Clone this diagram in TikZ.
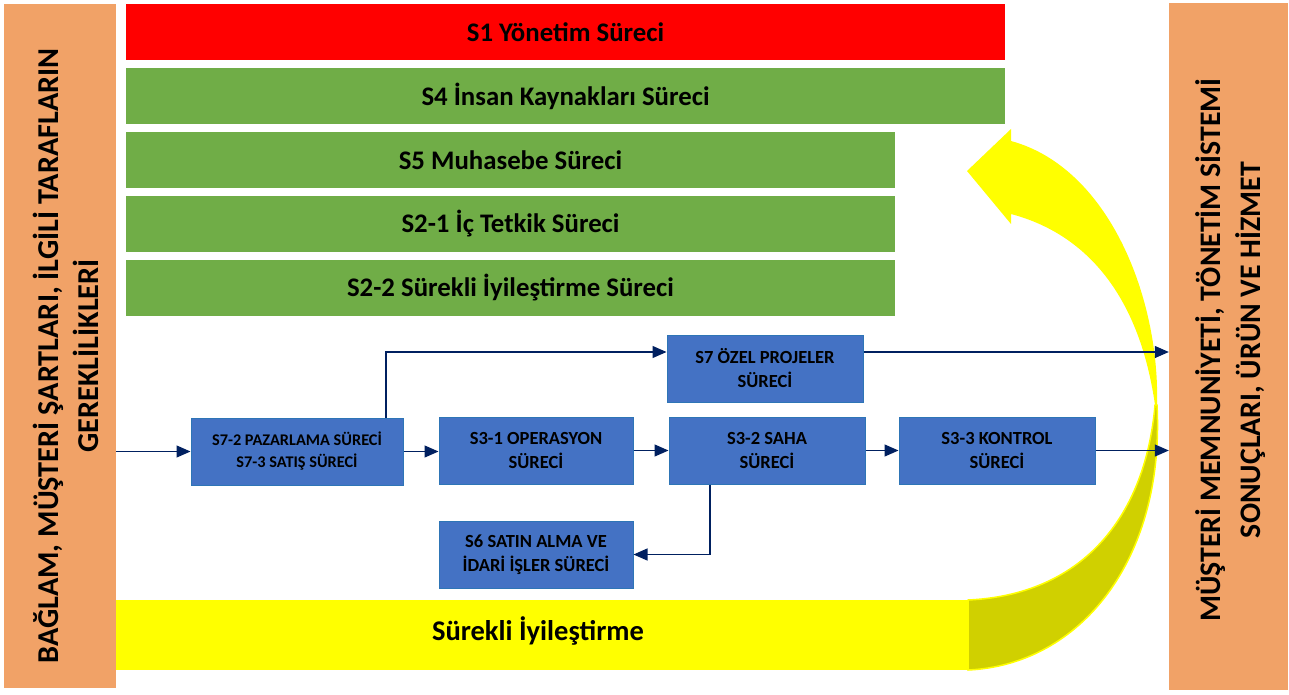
\documentclass[tikz,border=0pt]{standalone}
\usepackage{fontspec}
\setmainfont{Carlito}
\usetikzlibrary{arrows.meta}
\definecolor{orng}{RGB}{241,162,103}
\definecolor{grn}{RGB}{112,173,71}
\definecolor{rd}{RGB}{255,0,0}
\definecolor{blu}{RGB}{68,114,196}
\definecolor{bluedge}{RGB}{46,117,182}
\definecolor{navy}{RGB}{0,32,96}
\definecolor{yel}{RGB}{255,255,0}
\definecolor{olv}{RGB}{208,208,0}
\begin{document}
\begin{tikzpicture}[x=1pt,y=-1pt,
  side/.style={fill=orng, draw=none, inner sep=0},
  sidetext/.style={rotate=90, inner sep=0, align=center},
  bar/.style={draw=none, minimum height=56pt, inner sep=0,
    font=\bfseries\fontsize{26.8}{30}\selectfont},
  proc/.style={fill=blu, draw=bluedge, line width=1pt, minimum height=67pt,
    inner sep=0, align=center, font=\bfseries\fontsize{18.5}{24}\selectfont},
  link/.style={draw=navy, line width=1.2pt, -{Triangle[length=14pt,width=12pt]}},
  backside/.style={fill=olv, draw=yel, line width=1.5pt}
]
\useasboundingbox[fill=white] (0,0) rectangle (1289,695);

% side bars
\node[side, minimum width=112pt, minimum height=684pt] (lb) at (60,346) {};
\node[sidetext, font=\bfseries\fontsize{30.3}{40}\selectfont] (lbt) at (66,356)
  {BAĞLAM, MÜŞTERİ ŞARTLARI, İLGİLİ TARAFLARIN\\GEREKLİLİKLERİ};
\node[side, minimum width=119pt, minimum height=687pt] (rb) at (1228.5,346.5) {};
\node[sidetext, font=\bfseries\fontsize{29.8}{40}\selectfont] (rbt) at (1231,350)
  {MÜŞTERİ MEMNUNİYETİ, TÖNETİM SİSTEMİ\\SONUÇLARI, ÜRÜN VE HİZMET};

% process bars
\node[bar, fill=rd,  minimum width=879pt] (s1)  at (565.5,32)  {S1 Yönetim Süreci};
\node[bar, fill=grn, minimum width=879pt] (s4)  at (565.5,96)  {S4 İnsan Kaynakları Süreci};
\node[bar, fill=grn, minimum width=769pt] (s5)  at (510.5,160) {S5 Muhasebe Süreci};
\node[bar, fill=grn, minimum width=769pt] (s21) at (510.5,224) {S2-1 İç Tetkik Süreci};
\node[bar, fill=grn, minimum width=769pt] (s22) at (510.5,288) {S2-2 Sürekli İyileştirme Süreci};

% continual improvement arrow
\fill[yel] (1011,141) .. controls (1110,168) and (1160,300) .. (1157,405)
  -- (1155,405) .. controls (1140,300) and (1090,235) .. (1011,214)
  -- (1011,224) -- (967,171) -- (1011,129) -- cycle;
\path[backside] (1157,405) .. controls (1165,560) and (1080,665) .. (968,670)
  -- (968,600) .. controls (1080,595) and (1145,520) .. (1155,405) -- cycle;
\fill[yel] (116,600) rectangle (968,670);
\node[font=\bfseries\fontsize{28.5}{30}\selectfont] (ci) at (538,631) {Sürekli İyileştirme};

% processes
\node[proc, minimum width=212pt, font=\bfseries\fontsize{16.3}{22}\selectfont] (s72) at (297,451.5)
  {S7-2 PAZARLAMA SÜRECİ\\S7-3 SATIŞ SÜRECİ};
\node[proc, minimum width=194pt] (s31) at (536,450.5) {S3-1 OPERASYON\\SÜRECİ};
\node[proc, minimum width=196pt] (s32) at (767,450.5) {S3-2 SAHA\\SÜRECİ};
\node[proc, minimum width=196pt] (s33) at (997,450.5) {S3-3 KONTROL\\SÜRECİ};
\node[proc, minimum width=196pt] (s7)  at (765,368.5) {S7 ÖZEL PROJELER\\SÜRECİ};
\node[proc, minimum width=194pt] (s6)  at (536,554.5) {S6 SATIN ALMA VE\\İDARİ İŞLER SÜRECİ};

% connectors
\draw[link] (lb.east |- s72.west) -- (s72.west);
\draw[link] (s72.east) -- (s72.east -| s31.west);
\draw[link] (s31.east) -- (s31.east -| s32.west);
\draw[link] (s32.east) -- (s32.east -| s33.west);
\draw[link] (s33.east) -- (s33.east -| rb.west);
\draw[link] ([xshift=89pt]s72.north) |- ([yshift=16.5pt]s7.west);
\draw[link] ([yshift=16.5pt]s7.east) -- ([yshift=16.5pt]s7.east -| rb.west);
\draw[link] ([xshift=-57pt]s32.south) |- (s6.east);
\end{tikzpicture}
\end{document}
